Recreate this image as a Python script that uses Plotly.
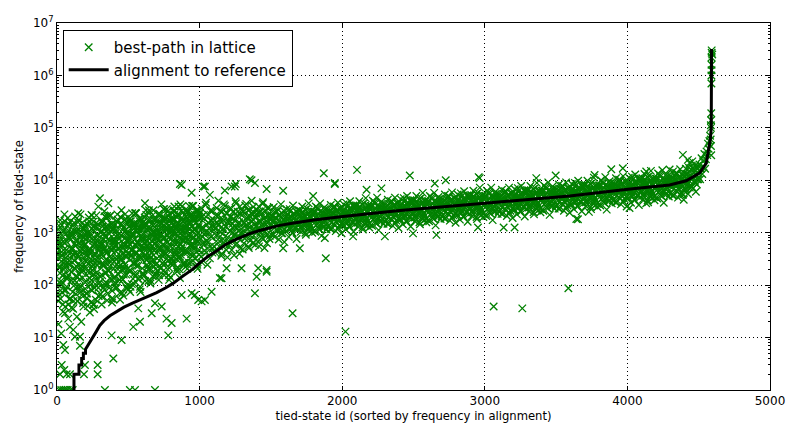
import plotly.graph_objects as go

# ---------------- data ----------------
# alignment to reference (sorted frequency per tied-state id)
align_x = [119, 119, 154, 154, 173, 173, 185, 185, 200, 200, 215, 235, 252, 275, 300, 330, 371,
           420, 470, 533, 600, 699, 760, 813, 885, 950, 1003, 1060, 1119, 1180, 1247, 1352, 1420,
           1500, 1563, 1650, 1800, 2006, 2404, 2999, 3595, 4004, 4296, 4413, 4459, 4506, 4553,
           4581, 4588, 4590]
align_y = [1, 2, 2, 3, 3, 4, 4, 5, 5, 6, 7, 8.5, 10, 13, 17, 21, 26,
           32, 38, 46, 55, 72, 88, 108, 150, 200, 270, 355, 450, 590, 730, 960, 1100,
           1260, 1380, 1520, 1750, 2040, 2640, 3650, 5000, 6770, 8150, 9800, 11500, 13700, 21300,
           59000, 1e5, 3.2e6]

# best-path in lattice: log10 frequency of every 5th tied-state id (ids 0, 5, 10, ...)
best_log10 = """
2.62 2.01 3.06 2.34 2.78 1.74 2.45 2.95 2.18 2.67 1.90 3.22 2.40 2.84 2.12 2.56 1.63 2.89 2.29 3.00
2.25 2.97 1.87 2.58 3.19 2.09 2.75 2.36 3.02 1.70 2.53 2.80 1.98 3.35 2.31 2.69 2.14 2.91 1.81 2.47
2.89 2.45 1.84 3.16 2.67 2.23 2.99 2.00 2.50 3.33 2.28 1.62 2.78 2.61 2.12 3.11 2.39 2.83 1.95 2.72
2.06 2.83 2.61 2.39 3.21 1.95 2.99 2.72 2.22 2.50 3.10 1.84 2.88 2.28 3.32 2.55 2.11 2.66 3.05 1.73
2.80 2.15 3.15 2.50 1.95 2.95 2.35 2.70 2.10 3.30 2.55 2.30 3.05 1.80 2.75 2.40 2.90 2.20 3.20 2.60
2.82 2.27 3.22 2.57 2.97 2.02 2.67 3.12 2.42 2.87 2.17 3.37 2.62 3.02 2.37 2.77 1.92 3.07 2.52 3.17
3.07 2.71 2.21 3.29 2.89 2.53 3.16 2.35 2.75 3.43 2.57 2.03 2.98 2.84 2.44 3.25 2.66 3.02 2.30 2.93
2.42 3.05 2.87 2.69 3.36 2.33 3.18 2.96 2.55 2.78 3.27 2.24 3.09 2.60 3.45 2.82 2.46 2.91 3.23 2.15
2.74 3.26 2.46 2.98 3.42 2.62 3.10 2.82 3.30 2.34 2.94 3.14 2.54 3.54 2.78 3.06 2.66 3.22 2.42 2.90
3.07 2.63 3.39 2.87 3.19 2.43 2.95 3.31 2.75 3.11 2.55 3.51 2.91 3.23 2.71 3.03 2.35 3.27 2.83 3.35
3.27 2.96 2.54 3.46 3.11 2.81 3.34 2.66 3.00 3.57 2.85 2.39 3.19 3.08 2.73 3.42 2.92 3.23 2.62 3.15
2.74 3.23 3.09 2.95 3.47 2.67 3.33 3.16 2.84 3.02 3.40 2.60 3.26 2.88 3.54 3.05 2.77 3.12 3.37 2.53
3.20 2.84 3.46 3.03 3.30 2.67 3.10 3.40 2.93 3.23 2.77 3.56 3.07 3.33 2.90 3.17 2.60 3.36 3.00 3.43
3.01 3.40 2.80 3.19 3.52 2.92 3.28 3.07 3.43 2.71 3.16 3.31 2.86 3.61 3.04 3.25 2.95 3.37 2.77 3.13
3.36 3.13 2.82 3.50 3.24 3.02 3.41 2.91 3.16 3.58 3.05 2.71 3.30 3.22 2.96 3.47 3.10 3.33 2.88 3.27
2.97 3.32 3.22 3.12 3.49 2.92 3.39 3.27 3.04 3.17 3.44 2.87 3.34 3.07 3.54 3.19 2.99 3.24 3.42 2.82
3.28 3.03 3.45 3.17 3.34 2.92 3.21 3.41 3.10 3.30 2.99 3.52 3.19 3.36 3.08 3.25 2.88 3.39 3.14 3.43
3.16 3.42 3.02 3.28 3.50 3.10 3.34 3.20 3.44 2.96 3.26 3.36 3.06 3.56 3.18 3.32 3.12 3.40 3.00 3.24
3.40 3.24 3.02 3.50 3.32 3.16 3.44 3.08 3.26 3.56 3.18 2.94 3.36 3.30 3.12 3.48 3.22 3.38 3.06 3.34
3.11 3.39 3.31 3.23 3.53 3.07 3.45 3.35 3.17 3.27 3.49 3.03 3.41 3.19 3.57 3.29 3.13 3.33 3.47 2.99
3.38 3.16 3.54 3.28 3.44 3.06 3.32 3.50 3.22 3.40 3.12 3.60 3.30 3.46 3.20 3.36 3.02 3.48 3.26 3.52
3.26 3.52 3.12 3.38 3.60 3.20 3.44 3.30 3.54 3.06 3.36 3.46 3.16 3.66 3.28 3.42 3.22 3.50 3.10 3.34
3.51 3.35 3.13 3.61 3.43 3.27 3.55 3.19 3.37 3.67 3.29 3.05 3.47 3.41 3.23 3.59 3.33 3.49 3.17 3.45
3.21 3.49 3.41 3.33 3.63 3.17 3.55 3.45 3.27 3.37 3.59 3.13 3.51 3.29 3.67 3.39 3.23 3.43 3.57 3.09
3.48 3.26 3.64 3.38 3.54 3.16 3.42 3.60 3.32 3.50 3.22 3.70 3.40 3.56 3.30 3.46 3.12 3.58 3.36 3.62
3.36 3.62 3.22 3.48 3.70 3.30 3.54 3.40 3.64 3.16 3.46 3.56 3.26 3.76 3.38 3.52 3.32 3.60 3.20 3.44
3.60 3.44 3.22 3.70 3.52 3.36 3.64 3.28 3.46 3.76 3.38 3.14 3.56 3.50 3.32 3.68 3.42 3.58 3.26 3.54
3.31 3.59 3.51 3.43 3.73 3.27 3.65 3.55 3.37 3.47 3.69 3.23 3.61 3.39 3.77 3.49 3.33 3.53 3.67 3.19
3.57 3.35 3.73 3.47 3.63 3.25 3.51 3.69 3.41 3.59 3.31 3.79 3.49 3.65 3.39 3.55 3.21 3.67 3.45 3.71
3.46 3.72 3.32 3.58 3.80 3.40 3.64 3.50 3.74 3.26 3.56 3.66 3.36 3.86 3.48 3.62 3.42 3.70 3.30 3.54
3.70 3.54 3.32 3.80 3.62 3.46 3.74 3.38 3.56 3.86 3.48 3.24 3.66 3.60 3.42 3.78 3.52 3.68 3.36 3.64
3.40 3.68 3.60 3.52 3.82 3.36 3.74 3.64 3.46 3.56 3.78 3.32 3.70 3.48 3.86 3.58 3.42 3.62 3.76 3.28
3.67 3.45 3.83 3.57 3.73 3.35 3.61 3.79 3.51 3.69 3.41 3.89 3.59 3.75 3.49 3.65 3.31 3.77 3.55 3.81
3.55 3.81 3.41 3.67 3.89 3.49 3.73 3.59 3.83 3.35 3.65 3.75 3.45 3.95 3.57 3.71 3.51 3.79 3.39 3.63
3.80 3.64 3.42 3.90 3.72 3.56 3.84 3.48 3.66 3.96 3.58 3.34 3.76 3.70 3.52 3.88 3.62 3.78 3.46 3.74
3.50 3.78 3.70 3.62 3.92 3.46 3.84 3.74 3.56 3.66 3.88 3.42 3.80 3.58 3.96 3.68 3.52 3.72 3.86 3.38
3.77 3.55 3.93 3.67 3.83 3.45 3.71 3.89 3.61 3.79 3.51 3.99 3.69 3.85 3.59 3.75 3.41 3.87 3.65 3.91
3.65 3.91 3.51 3.77 3.99 3.59 3.83 3.69 3.93 3.45 3.75 3.85 3.55 4.05 3.67 3.81 3.61 3.89 3.49 3.73
3.90 3.74 3.52 4.00 3.82 3.66 3.94 3.58 3.76 4.06 3.68 3.44 3.86 3.80 3.62 3.98 3.72 3.88 3.56 3.84
3.62 3.90 3.82 3.74 4.04 3.58 3.96 3.86 3.68 3.78 4.00 3.54 3.92 3.70 4.08 3.80 3.64 3.84 3.98 3.50
3.89 3.67 4.05 3.79 3.95 3.57 3.83 4.01 3.73 3.91 3.63 4.11 3.81 3.97 3.71 3.87 3.53 3.99 3.77 4.03
3.78 4.04 3.64 3.90 4.12 3.72 3.96 3.82 4.06 3.58 3.88 3.98 3.68 4.18 3.80 3.94 3.74 4.02 3.62 3.86
4.03 3.87 3.65 4.13 3.95 3.79 4.07 3.71 3.89 4.19 3.81 3.57 3.99 3.93 3.75 4.11 3.85 4.01 3.69 3.97
3.75 4.03 3.95 3.87 4.17 3.71 4.09 3.99 3.81 3.91 4.13 3.67 4.05 3.83 4.21 3.93 3.77 3.97 4.11 3.63
4.06 3.84 4.22 3.96 4.12 3.74 4.00 4.18 3.90 4.08 3.88 4.36 4.06 4.22 3.96 4.12 3.78 4.24 4.02 4.28
4.06 4.30 4.02 4.22 4.42 4.12 4.36 4.26 4.50 4.22 4.40 4.55 4.48 4.70 4.60 4.75 4.85 5.05 6.10 6.40
"""

# best-path in lattice: log10 frequency of ids 2, 7, 12, ... (up to 4497)
best_extra_log10 = """
2.69 1.85 2.81 2.33 3.11 2.03 2.57 2.75 1.49 2.21 3.35 2.45 1.91 2.99 2.15 2.63 3.17 1.73 2.39 2.87
1.57 3.01 2.59 1.99 2.47 3.31 2.17 2.83 1.69 3.07 2.41 2.11 2.65 2.95 1.81 3.19 2.29 2.53 2.77 1.93
3.10 2.32 2.98 1.60 2.62 2.14 2.92 2.44 3.34 1.90 2.74 2.20 3.04 2.50 1.72 2.86 2.38 3.16 2.02 2.68
2.55 1.83 3.03 2.19 2.79 2.37 3.41 2.01 2.91 2.61 1.71 3.15 2.43 2.85 2.13 3.33 2.67 1.89 3.09 2.31
2.82 2.05 2.93 2.49 3.21 2.22 2.71 2.88 1.72 2.38 3.43 2.60 2.11 3.10 2.33 2.77 3.26 1.94 2.55 2.99
1.92 3.12 2.77 2.27 2.67 3.37 2.42 2.97 2.02 3.17 2.62 2.37 2.82 3.07 2.12 3.27 2.52 2.72 2.92 2.22
3.20 2.62 3.11 2.08 2.84 2.48 3.07 2.71 3.38 2.30 2.93 2.53 3.16 2.75 2.17 3.02 2.66 3.25 2.39 2.89
2.82 2.28 3.18 2.55 3.00 2.69 3.54 2.42 3.09 2.87 2.19 3.27 2.73 3.05 2.51 3.41 2.91 2.33 3.23 2.64
3.06 2.50 3.14 2.82 3.34 2.62 2.98 3.10 2.26 2.74 3.50 2.90 2.54 3.26 2.70 3.02 3.38 2.42 2.86 3.18
2.35 3.31 3.03 2.63 2.95 3.51 2.75 3.19 2.43 3.35 2.91 2.71 3.07 3.27 2.51 3.43 2.83 2.99 3.15 2.59
3.38 2.89 3.30 2.43 3.08 2.77 3.27 2.96 3.53 2.62 3.15 2.81 3.34 3.00 2.51 3.23 2.92 3.42 2.70 3.11
3.05 2.63 3.33 2.84 3.19 2.95 3.61 2.74 3.26 3.09 2.56 3.40 2.98 3.23 2.81 3.51 3.12 2.67 3.37 2.91
3.23 2.77 3.30 3.03 3.46 2.87 3.17 3.27 2.57 2.97 3.60 3.10 2.80 3.40 2.94 3.20 3.50 2.70 3.07 3.33
2.68 3.40 3.19 2.89 3.13 3.55 2.98 3.31 2.74 3.43 3.10 2.95 3.22 3.37 2.80 3.49 3.04 3.16 3.28 2.86
3.44 3.08 3.38 2.74 3.22 2.99 3.36 3.13 3.55 2.88 3.27 3.02 3.41 3.16 2.80 3.33 3.10 3.47 2.94 3.24
3.34 3.15 3.31 2.97 3.22 3.10 3.29 3.17 3.40 3.04 3.25 3.11 3.33 3.19 2.99 3.28 3.16 3.35 3.07 3.23
3.21 3.03 3.33 3.12 3.27 3.17 3.45 3.07 3.30 3.23 3.00 3.36 3.18 3.29 3.11 3.41 3.24 3.05 3.35 3.15
3.30 3.09 3.33 3.21 3.40 3.14 3.27 3.32 3.00 3.18 3.46 3.24 3.10 3.38 3.16 3.28 3.42 3.06 3.22 3.34
3.04 3.40 3.29 3.14 3.26 3.47 3.18 3.35 3.06 3.41 3.24 3.17 3.30 3.38 3.10 3.44 3.22 3.28 3.34 3.12
3.44 3.25 3.41 3.07 3.32 3.20 3.39 3.27 3.50 3.14 3.35 3.21 3.43 3.29 3.09 3.38 3.26 3.45 3.17 3.33
3.32 3.14 3.44 3.23 3.38 3.28 3.56 3.18 3.41 3.34 3.11 3.47 3.29 3.40 3.22 3.52 3.35 3.16 3.46 3.26
3.40 3.19 3.43 3.31 3.50 3.24 3.37 3.42 3.10 3.28 3.56 3.34 3.20 3.48 3.26 3.38 3.52 3.16 3.32 3.44
3.15 3.51 3.40 3.25 3.37 3.58 3.29 3.46 3.17 3.52 3.35 3.28 3.41 3.49 3.21 3.55 3.33 3.39 3.45 3.23
3.54 3.35 3.51 3.17 3.42 3.30 3.49 3.37 3.60 3.24 3.45 3.31 3.53 3.39 3.19 3.48 3.36 3.55 3.27 3.43
3.42 3.24 3.54 3.33 3.48 3.38 3.66 3.28 3.51 3.44 3.21 3.57 3.39 3.50 3.32 3.62 3.45 3.26 3.56 3.36
3.50 3.29 3.53 3.41 3.60 3.34 3.47 3.52 3.20 3.38 3.66 3.44 3.30 3.58 3.36 3.48 3.62 3.26 3.42 3.54
3.24 3.60 3.49 3.34 3.46 3.67 3.38 3.55 3.26 3.61 3.44 3.37 3.50 3.58 3.30 3.64 3.42 3.48 3.54 3.32
3.64 3.45 3.61 3.27 3.52 3.40 3.59 3.47 3.70 3.34 3.55 3.41 3.63 3.49 3.29 3.58 3.46 3.65 3.37 3.53
3.51 3.33 3.63 3.42 3.57 3.47 3.75 3.37 3.60 3.53 3.30 3.66 3.48 3.59 3.41 3.71 3.54 3.35 3.65 3.45
3.60 3.39 3.63 3.51 3.70 3.44 3.57 3.62 3.30 3.48 3.76 3.54 3.40 3.68 3.46 3.58 3.72 3.36 3.52 3.64
3.34 3.70 3.59 3.44 3.56 3.77 3.48 3.65 3.36 3.71 3.54 3.47 3.60 3.68 3.40 3.74 3.52 3.58 3.64 3.42
3.73 3.54 3.70 3.36 3.61 3.49 3.68 3.56 3.79 3.43 3.64 3.50 3.72 3.58 3.38 3.67 3.55 3.74 3.46 3.62
3.61 3.43 3.73 3.52 3.67 3.57 3.85 3.47 3.70 3.63 3.40 3.76 3.58 3.69 3.51 3.81 3.64 3.45 3.75 3.55
3.69 3.48 3.72 3.60 3.79 3.53 3.66 3.71 3.39 3.57 3.85 3.63 3.49 3.77 3.55 3.67 3.81 3.45 3.61 3.73
3.44 3.80 3.69 3.54 3.66 3.87 3.58 3.75 3.46 3.81 3.64 3.57 3.70 3.78 3.50 3.84 3.62 3.68 3.74 3.52
3.83 3.64 3.80 3.46 3.71 3.59 3.78 3.66 3.89 3.53 3.74 3.60 3.82 3.68 3.48 3.77 3.65 3.84 3.56 3.72
3.71 3.53 3.83 3.62 3.77 3.67 3.95 3.57 3.80 3.73 3.50 3.86 3.68 3.79 3.61 3.91 3.74 3.55 3.85 3.65
3.79 3.58 3.82 3.70 3.89 3.63 3.76 3.81 3.49 3.67 3.95 3.73 3.59 3.87 3.65 3.77 3.91 3.55 3.71 3.83
3.54 3.90 3.79 3.64 3.76 3.97 3.68 3.85 3.56 3.91 3.74 3.67 3.80 3.88 3.60 3.94 3.72 3.78 3.84 3.62
3.95 3.76 3.92 3.58 3.83 3.71 3.90 3.78 4.01 3.65 3.86 3.72 3.94 3.80 3.60 3.89 3.77 3.96 3.68 3.84
3.83 3.65 3.95 3.74 3.89 3.79 4.07 3.69 3.92 3.85 3.62 3.98 3.80 3.91 3.73 4.03 3.86 3.67 3.97 3.77
3.92 3.71 3.95 3.83 4.02 3.76 3.89 3.94 3.62 3.80 4.08 3.86 3.72 4.00 3.78 3.90 4.04 3.68 3.84 3.96
3.67 4.03 3.92 3.77 3.89 4.10 3.81 3.98 3.69 4.04 3.87 3.80 3.93 4.01 3.73 4.07 3.85 3.91 3.97 3.75
4.08 3.89 4.05 3.71 3.96 3.84 4.03 3.91 4.14 3.78 3.99 3.85 4.07 3.93 3.73 4.02 3.90 4.09 3.81 3.97
4.00 3.82 4.12 3.91 4.06 3.96 4.24 3.86 4.09 4.02 3.87 4.23 4.05 4.16 3.98 4.28 4.11 3.92 4.22 4.02
"""

# best-path in lattice, wide left part: log10 frequency of ids 1, 6, 11, ... (up to 996)
best_left_a_log10 = """
2.73 1.79 2.51 2.95 2.23 3.17 2.01 2.56 1.63 2.84 2.34 3.06 1.90 2.67 2.12 3.28 2.40 2.89 1.74 2.62
2.09 2.69 3.13 1.70 2.47 2.80 2.31 3.02 1.97 2.58 3.24 2.20 2.91 1.87 2.64 2.36 3.08 1.59 2.75 2.97
2.78 1.84 2.56 3.00 2.28 3.22 2.06 2.61 1.68 2.89 2.39 3.11 1.95 2.72 2.17 3.33 2.45 2.94 1.79 2.67
2.17 2.77 3.21 1.78 2.55 2.88 2.39 3.10 2.05 2.66 3.32 2.28 2.99 1.95 2.72 2.44 3.16 1.67 2.83 3.05
2.85 2.00 2.65 3.05 2.40 3.25 2.20 2.70 1.85 2.95 2.50 3.15 2.10 2.80 2.30 3.35 2.55 3.00 1.95 2.75
2.32 2.87 3.27 1.97 2.67 2.97 2.52 3.17 2.22 2.77 3.37 2.42 3.07 2.12 2.82 2.57 3.22 1.87 2.92 3.12
2.98 2.21 2.80 3.16 2.57 3.34 2.39 2.84 2.08 3.07 2.66 3.25 2.30 2.93 2.48 3.43 2.71 3.11 2.17 2.89
2.51 3.00 3.36 2.19 2.82 3.09 2.69 3.27 2.42 2.91 3.45 2.60 3.18 2.33 2.96 2.73 3.32 2.10 3.05 3.23
3.10 2.42 2.94 3.26 2.74 3.42 2.58 2.98 2.30 3.18 2.82 3.34 2.50 3.06 2.66 3.50 2.86 3.22 2.38 3.02
2.67 3.11 3.43 2.39 2.95 3.19 2.83 3.35 2.59 3.03 3.51 2.75 3.27 2.51 3.07 2.87 3.39 2.31 3.15 3.31
"""

# best-path in lattice, wide left part: log10 frequency of ids 3, 8, 13, ... (up to 998)
best_left_b_log10 = """
2.58 1.70 2.85 2.36 3.24 2.08 2.63 1.86 3.02 2.30 2.80 1.59 2.52 1.97 3.13 2.19 2.91 2.47 1.75 2.69
2.93 2.71 1.55 3.04 2.32 2.60 1.83 2.87 2.16 3.20 2.54 1.94 2.98 2.27 2.76 2.43 1.66 3.09 2.65 2.05
2.63 1.75 2.90 2.41 3.29 2.13 2.68 1.91 3.07 2.35 2.85 1.64 2.57 2.02 3.18 2.24 2.96 2.52 1.80 2.74
3.01 2.79 1.63 3.12 2.40 2.68 1.91 2.95 2.24 3.28 2.62 2.02 3.06 2.35 2.84 2.51 1.74 3.17 2.73 2.13
2.75 1.95 3.00 2.55 3.35 2.30 2.80 2.10 3.15 2.50 2.95 1.85 2.70 2.20 3.25 2.40 3.05 2.65 2.00 2.85
3.12 2.92 1.87 3.22 2.57 2.82 2.12 3.07 2.42 3.37 2.77 2.22 3.17 2.52 2.97 2.67 1.97 3.27 2.87 2.32
2.89 2.17 3.11 2.71 3.43 2.48 2.93 2.30 3.25 2.66 3.07 2.08 2.84 2.39 3.34 2.57 3.16 2.80 2.21 2.98
3.23 3.05 2.10 3.32 2.73 2.96 2.33 3.18 2.60 3.45 2.91 2.42 3.27 2.69 3.09 2.82 2.19 3.36 3.00 2.51
3.02 2.38 3.22 2.86 3.50 2.66 3.06 2.50 3.34 2.82 3.18 2.30 2.98 2.58 3.42 2.74 3.26 2.94 2.42 3.10
3.31 3.15 2.31 3.39 2.87 3.07 2.51 3.27 2.75 3.51 3.03 2.59 3.35 2.83 3.19 2.95 2.39 3.43 3.11 2.67
"""

# isolated best-path points (id, frequency)
outlier_x = [15, 30, 45, 60, 75, 95, 110, 336, 511, 547, 687,
             21, 68, 91, 189, 285, 51, 33, 196, 285, 395,
             56, 44, 161, 453, 126, 161, 383, 114, 10, 30, 90, 140, 170, 79, 56, 230, 260,
             535, 582, 664, 804, 780, 909, 768, 874, 944, 967, 1014, 1037, 990, 1084, 1142, 862,
             734, 687, 570, 1400, 1470, 1388, 1652, 1885, 2023, 3062, 3263, 3586,
             2076, 2299, 1878, 1703, 1586, 1470, 1294, 1411, 1189, 1154, 2661, 2952, 3132, 3209,
             2497, 3642, 3653, 3730, 4015, 4132, 4459, 4389,
             1871, 2104, 2474, 1948, 2964, 2726, 2649, 2957, 3497, 3361, 3887, 3968, 4132, 3770,
             4296, 4389, 4424, 4436, 874, 944, 617, 301, 360, 290, 149, 91, 196, 255, 336, 1037,
             1072, 1177, 1224, 862, 1352, 1025, 1254, 1586, 1470, 1247, 1364, 1388, 1796, 1948,
             2275, 2171,
             4584, 4586, 4586, 4587, 4588, 4588, 4589, 4589, 4590, 4590, 4591, 4591]
outlier_y = [1, 1, 1, 1, 1, 1, 1, 1, 1, 1, 1,
             2, 2, 2, 2, 2, 2.4, 3, 3, 3, 4,
             5.8, 7.2, 7, 9, 10.4, 10.4, 11, 14, 18, 12, 16, 25, 20, 23, 29, 30, 35,
             16, 20, 29, 19, 11, 23, 23, 65, 70, 65, 49, 52, 52, 75, 137, 137,
             39, 45, 36, 145, 180, 70, 29, 325, 13, 39, 36, 87,
             850, 850, 790, 505, 505, 195, 210, 210, 210, 135, 910, 1260, 1260, 1260,
             970, 1830, 1800, 2500, 2950, 3650, 7000, 5260,
             13600, 15800, 12300, 8500, 11000, 10000, 8700, 11500, 12300, 11000, 16200, 17000, 14700, 12600,
             16000, 30500, 24500, 21300, 8150, 5800, 3650, 4550, 3650, 3150, 2350, 1630, 1400, 1630, 2040, 7600,
             5260, 6400, 7600, 8500, 10500, 7600, 8500, 6300, 6800, 7600, 10000, 8900, 5000, 8900,
             7000, 6600,
             6e4, 4.5e4, 1.0e5, 1.4e5, 1.9e5, 3.0e4, 7e5, 1.0e6, 1.6e6, 2.2e6, 2.7e6, 3.0e6]

x_ticks = [0, 1000, 2000, 3000, 4000, 5000]
y_ticks = [1, 10, 100, 1e3, 1e4, 1e5, 1e6, 1e7]
y_ticktext = ["10<sup>0</sup>", "10<sup>1</sup>", "10<sup>2</sup>", "10<sup>3</sup>",
              "10<sup>4</sup>", "10<sup>5</sup>", "10<sup>6</sup>", "10<sup>7</sup>"]
y_minor = [m * d for d in [1, 10, 100, 1e3, 1e4, 1e5, 1e6] for m in range(2, 10)]


# ---------------- build ----------------
def ids_and_values(text, first_id):
    vals = [10 ** float(v) for v in text.split()]
    return [first_id + 5 * i for i in range(len(vals))], vals


series = [ids_and_values(best_log10, 0), ids_and_values(best_extra_log10, 2),
          ids_and_values(best_left_a_log10, 1), ids_and_values(best_left_b_log10, 3),
          (outlier_x, outlier_y)]
bp_x = [x for xs, _ in series for x in xs]
bp_y = [y for _, ys in series for y in ys]

GREEN = "#008000"
FONT = "DejaVu Sans"

fig = go.Figure()
fig.add_trace(go.Scatter(
    x=bp_x, y=bp_y, mode="markers", name="best-path in lattice",
    marker=dict(symbol="x-thin", size=7.5, color=GREEN, line=dict(color=GREEN, width=1.3)),
))
fig.add_trace(go.Scatter(
    x=align_x, y=align_y, mode="lines", name="alignment to reference",
    line=dict(color="black", width=3),
))

axis_common = dict(
    showline=True, linecolor="black", linewidth=1, mirror="allticks",
    ticks="inside", tickcolor="black", ticklen=4, automargin=False,
    showgrid=True, gridcolor="black", griddash="1px,3px", gridwidth=1,
    zeroline=False, tickfont=dict(family=FONT, size=12, color="black"),
)

fig.update_layout(
    width=787, height=426,
    margin=dict(l=57, r=17, t=23, b=36),
    paper_bgcolor="white", plot_bgcolor="white",
    font=dict(family=FONT, color="black"),
    xaxis=dict(range=[0, 5000], tickvals=x_ticks, ticktext=[str(t) for t in x_ticks],
               title=dict(text="tied-state id (sorted by frequency in alignment)",
                          font=dict(family=FONT, size=11.6), standoff=4),
               **axis_common),
    yaxis=dict(type="log", range=[0, 7], tickvals=y_ticks, ticktext=y_ticktext,
               title=dict(text="frequency of tied-state", font=dict(family=FONT, size=11.6), standoff=6),
               minor=dict(tickvals=y_minor, ticks="inside", ticklen=2, tickcolor="black", showgrid=False),
               **axis_common),
    legend=dict(x=0.008, y=0.981, xanchor="left", yanchor="top",
                bgcolor="white", bordercolor="black", borderwidth=1,
                font=dict(family=FONT, size=15, color="black"),
                itemwidth=40, tracegroupgap=0),
    showlegend=True,
)

fig.write_html("out.html")
